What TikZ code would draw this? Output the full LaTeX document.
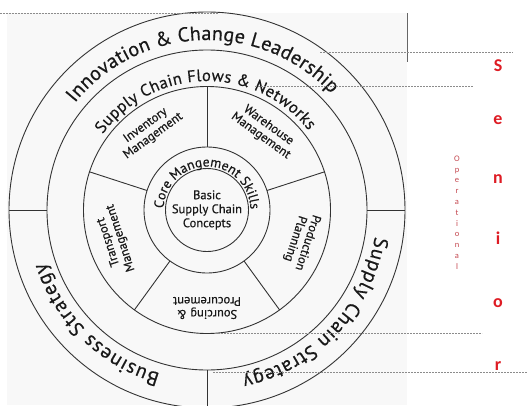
\documentclass[tikz,border=0pt]{standalone}
\usepackage{fontspec}
\setmainfont{PT Sans}[FakeBold=0.45]
\newfontfamily\calibri{Carlito}
\usetikzlibrary{decorations.text}
\definecolor{seniorred}{RGB}{222,28,36}
\definecolor{opred}{RGB}{196,72,80}
\definecolor{panelgray}{RGB}{248,248,248}

\begin{document}
\begin{tikzpicture}
    [
        x=1pt, y=1pt,
        ring/.style = {draw=black!80, shape=circle, inner sep=0pt, outer sep=0pt, line width=0.9pt},
        divider/.style = {draw=black!80, line width=0.9pt},
        guide/.style = {draw=black!45, line width=0.6pt, dash pattern=on 1.6pt off 1.4pt},
        seglabel/.style = {align=center, font=\fontsize{12.5}{13}\selectfont, text=black!90, inner sep=0pt},
        senior/.style = {anchor=base, font=\calibri\bfseries\fontsize{18}{18}\selectfont, text=seniorred, inner sep=0pt},
        arctext/.style = {decorate, decoration={text along path, text align=fit to path, text color=black!90}},
    ]

    \useasboundingbox (-207,-195) rectangle (320,210);
    \fill[panelgray] (-200,-195) rectangle (200,197);
    \draw[black!60, line width=0.8pt] (200,197) -- (200,148);

    % rings
    \node[ring, minimum size=396] (outer) at (0,0) {};
    \node[ring, minimum size=320] (flows) at (0,0) {};
    \node[ring, minimum size=247] (segments) at (0,0) {};
    \node[ring, minimum size=126] (core) at (0,0) {};
    \node[ring, minimum size=83, align=center, text=black!90, font=\fontsize{12.5}{14}\selectfont] (basic) at (0,0) {Basic\\Supply Chain\\Concepts};

    % outer ring dividers
    \draw[divider] (flows.180) -- (outer.180);
    \draw[divider] (flows.0) -- (outer.0);
    \draw[divider] (flows.270) -- (outer.270);

    % spokes
    \draw[divider] (core.90) -- (segments.90);
    \draw[divider] (core.18) -- (segments.18);
    \draw[divider] (core.-54) -- (segments.-54);
    \draw[divider] (core.-126) -- (segments.-126);
    \draw[divider] (core.162) -- (segments.162);

    % segment labels
    \node[seglabel, rotate=36] (inventory) at (126:98) {Inventory\\Management};
    \node[seglabel, rotate=-36] (warehouse) at (54:98) {Warehouse\\Management};
    \node[seglabel, rotate=-108] (production) at (-18:99) {Production\\Planning};
    \node[seglabel, rotate=180] (sourcing) at (-90:98) {Sourcing \&\\Procurement};
    \node[seglabel, rotate=108] (transport) at (198:97) {Transport\\Management};

    % curved ring texts
    \path[arctext, decoration={text={|\fontsize{20}{20}\selectfont|Innovation {\&} Change Leadership}}] (141:170) arc[start angle=141, end angle=43, radius=170];
    \path[arctext, decoration={text={|\fontsize{16.5}{16.5}\selectfont|Supply Chain Flows {\&} Networks}}] (144:129) arc[start angle=144, end angle=38, radius=129];
    \path[arctext, decoration={text={|\fontsize{13.5}{13.5}\selectfont|Core Mangement Skills}}] (178:43.5) arc[start angle=178, end angle=1, radius=43.5];
    \path[arctext, decoration={text={|\fontsize{20}{20}\selectfont|Business Strategy}}] (254:170) arc[start angle=254, end angle=198, radius=170];
    \path[arctext, decoration={text={|\fontsize{20}{20}\selectfont|Supply Chain Strategy}}] (-9:170) arc[start angle=-9, end angle=-78, radius=170];

    % guide lines
    \draw[guide] (-207,197) -- (11,197);
    \draw[guide] (113,158) -- (306,158);
    \draw[guide] (48,124) -- (266,124);
    \draw[guide] (8,-123) -- (275,-123);
    \draw[guide] (6,-162) -- (320,-162);

    % levels
    \node[senior] (senS) at (291,139) {S};
    \node[senior] (senE) at (291,86) {e};
    \node[senior] (senN) at (291,27) {n};
    \node[senior] (senI) at (291,-34) {i};
    \node[senior] (senO) at (291,-97) {o};
    \node[senior] (senR) at (291,-160) {r};
    \node[align=center, inner sep=0pt, text=opred, font=\calibri\fontsize{8.5}{10.8}\selectfont] (operational) at (250,-2.5) {O\\p\\e\\r\\a\\t\\i\\o\\n\\a\\l};

\end{tikzpicture}
\end{document}
